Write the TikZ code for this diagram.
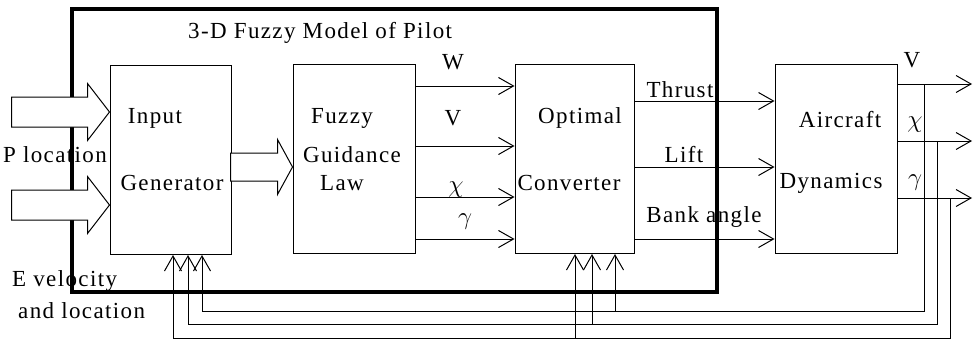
\documentclass[tikz,border=0pt]{standalone}
\usepackage{fontspec}
\setmainfont{Liberation Serif}[LetterSpace=6]
\usetikzlibrary{positioning,arrows.meta}

\begin{document}
\begin{tikzpicture}[x=1pt,y=-1pt,
    box/.style={draw,line width=1pt,minimum width=#1,minimum height=189pt,inner sep=0pt},
    lbl/.style={inner sep=0pt,font=\fontsize{23}{26}\selectfont},
    wire/.style={line width=1pt},
    sig/.style={line width=1pt,-{Straight Barb[length=15pt,width=17pt]}},
    fat/.style={line width=1pt,fill=white,line join=miter}]
  \useasboundingbox (0,0) rectangle (973,340);
  \node[draw,line width=4pt,minimum width=645pt,minimum height=283pt,inner sep=0pt]
    (pilot) at (394.5,150.5) {};
  \node[box=121pt] (ig) at (170.5,160) {};
  \node[box=122pt] (fg) at (354,159) {};
  \node[box=119pt] (oc) at (574.5,159) {};
  \node[box=122pt] (ac) at (836,159) {};

  \node[lbl,anchor=west] (title) at (188,33) {3-D Fuzzy Model of Pilot};
  \node[lbl] (igA) at (155,118) {Input};
  \node[lbl] (igB) at (172,183) {Generator};
  \node[lbl] (fgA) at (342,118) {Fuzzy};
  \node[lbl] (fgB) at (352,155) {Guidance};
  \node[lbl] (fgC) at (342,183) {Law};
  \node[lbl] (ocA) at (580,118) {Optimal};
  \node[lbl] (ocB) at (569,183) {Converter};
  \node[lbl] (acA) at (840,120) {Aircraft};
  \node[lbl] (acB) at (831,183) {Dynamics};
  \node[lbl,anchor=west] (ploc) at (3,155) {P location};
  \node[lbl,anchor=west] (evel) at (12,281) {E velocity};
  \node[lbl,anchor=west] (eloc) at (18,311) {and location};

  % block arrows
  \coordinate (ptip) at (ig.west |- 0,112);
  \coordinate (etip) at (ig.west |- 0,205);
  \coordinate (gtip) at (fg.west |- 0,167);
  \draw[fat] (ptip) -- ++(-22,-28.5) -- ++(0,13.5) -- ++(-76,0) -- ++(0,30)
    -- ++(76,0) -- ++(0,13.5) -- cycle;
  \draw[fat] (etip) -- ++(-22,-28.5) -- ++(0,13.5) -- ++(-76,0) -- ++(0,30)
    -- ++(76,0) -- ++(0,13.5) -- cycle;
  \draw[fat] (gtip) -- ++(-15,-27.5) -- ++(0,13.5) -- ++(-47,0) -- ++(0,28)
    -- ++(47,0) -- ++(0,13.5) -- cycle;

  % guidance outputs
  \foreach \yy in {86,146,197,239}
    \draw[sig] (fg.east |- 0,\yy) -- (oc.west |- 0,\yy);
  \node[lbl] (lW) at (453,62) {W};
  \node[lbl] (lV) at (453,118) {V};
  \node[lbl] (lchi) at (456,190) {$\chi$};
  \node[lbl] (lgam) at (465,222) {$\gamma$};

  % converter outputs
  \foreach \yy in {101,167,239}
    \draw[sig] (oc.east |- 0,\yy) -- (ac.west |- 0,\yy);
  \node[lbl] (thr) at (680,90) {Thrust};
  \node[lbl] (lift) at (684,155) {Lift};
  \node[lbl] (bank) at (704,217) {Bank angle};

  % aircraft outputs
  \coordinate (vout) at (972,84);
  \coordinate (cout) at (972,141);
  \coordinate (gout) at (972,198);
  \draw[sig] (ac.east |- vout) -- (vout);
  \draw[sig] (ac.east |- cout) -- (cout);
  \draw[sig] (ac.east |- gout) -- (gout);
  \node[lbl] (oV) at (912,60) {V};
  \node[lbl] (ochi) at (915,125) {$\chi$};
  \node[lbl] (ogam) at (915,183) {$\gamma$};

  % feedback
  \coordinate (vtap) at (924,84);
  \coordinate (ctap) at (937,141);
  \coordinate (gtap) at (950,198);
  \coordinate (vbus) at (202,311);
  \coordinate (cbus) at (188,324);
  \coordinate (gbus) at (173,338);
  \draw[sig] (vtap) |- (vbus) -- (ig.south -| vbus);
  \draw[sig] (ctap) |- (cbus) -- (ig.south -| cbus);
  \draw[sig] (gtap) |- (gbus) -- (ig.south -| gbus);
  \draw[sig] (vbus -| 615,0) -- (oc.south -| 615,0);
  \draw[sig] (cbus -| 592,0) -- (oc.south -| 592,0);
  \draw[sig] (gbus -| 575,0) -- (oc.south -| 575,0);
\end{tikzpicture}
\end{document}
